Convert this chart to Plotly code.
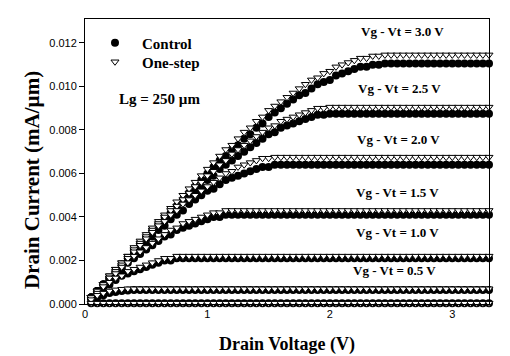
import plotly.graph_objects as go

# Drain voltage (V)
vd = [0.05, 0.10, 0.15, 0.20, 0.25, 0.30, 0.35, 0.40, 0.45, 0.50, 0.55,
      0.60, 0.65, 0.70, 0.75, 0.80, 0.85, 0.90, 0.95, 1.00, 1.05, 1.10,
      1.15, 1.20, 1.25, 1.30, 1.35, 1.40, 1.45, 1.50, 1.55, 1.60, 1.65,
      1.70, 1.75, 1.80, 1.85, 1.90, 1.95, 2.00, 2.05, 2.10, 2.15, 2.20,
      2.25, 2.30, 2.35, 2.40, 2.45, 2.50, 2.55, 2.60, 2.65, 2.70, 2.75,
      2.80, 2.85, 2.90, 2.95, 3.00, 3.05, 3.10, 3.15, 3.20, 3.25, 3.30]

# Drain current in uA/um (converted to mA/um when plotted)
ctrl_30 = [0.3, 0.6, 0.9, 1.2, 1.5, 1.8, 2.1, 2.5, 2.8, 3.1, 3.4,
           3.7, 4.0, 4.2, 4.5, 4.8, 5.1, 5.4, 5.7, 6.0, 6.3, 6.6,
           6.8, 7.1, 7.3, 7.6, 7.8, 8.1, 8.3, 8.6, 8.8, 9.0, 9.2,
           9.4, 9.6, 9.7, 9.9, 10.1, 10.2, 10.3, 10.5, 10.6, 10.7, 10.8,
           10.9, 10.9, 11.0, 11.0, 11.05, 11.05, 11.05, 11.05, 11.05, 11.05, 11.05,
           11.05, 11.05, 11.05, 11.05, 11.05, 11.05, 11.05, 11.05, 11.05, 11.05, 11.05]
one_30 = [0.3, 0.6, 0.9, 1.3, 1.6, 1.9, 2.2, 2.6, 2.9, 3.2, 3.5,
          3.8, 4.1, 4.4, 4.7, 5.0, 5.3, 5.6, 5.9, 6.2, 6.5, 6.8,
          7.1, 7.3, 7.6, 7.9, 8.1, 8.4, 8.6, 8.9, 9.1, 9.3, 9.5,
          9.7, 9.9, 10.1, 10.3, 10.4, 10.6, 10.7, 10.9, 11.0, 11.1, 11.2,
          11.3, 11.3, 11.4, 11.4, 11.45, 11.45, 11.45, 11.45, 11.45, 11.45, 11.45,
          11.45, 11.45, 11.45, 11.45, 11.45, 11.45, 11.45, 11.45, 11.45, 11.45, 11.45]
ctrl_25 = [0.3, 0.6, 0.9, 1.2, 1.5, 1.8, 2.1, 2.4, 2.7, 3.0, 3.3,
           3.6, 3.8, 4.1, 4.4, 4.7, 4.9, 5.2, 5.4, 5.7, 5.9, 6.2,
           6.4, 6.6, 6.8, 7.0, 7.2, 7.4, 7.6, 7.8, 7.9, 8.1, 8.2,
           8.3, 8.4, 8.5, 8.6, 8.7, 8.7, 8.75, 8.75, 8.75, 8.75, 8.75,
           8.75, 8.75, 8.75, 8.75, 8.75, 8.75, 8.75, 8.75, 8.75, 8.75, 8.75,
           8.75, 8.75, 8.75, 8.75, 8.75, 8.75, 8.75, 8.75, 8.75, 8.75, 8.75]
one_25 = [0.3, 0.6, 0.9, 1.3, 1.6, 1.9, 2.2, 2.5, 2.8, 3.1, 3.4,
          3.7, 4.0, 4.3, 4.5, 4.8, 5.1, 5.4, 5.6, 5.9, 6.1, 6.4,
          6.6, 6.9, 7.1, 7.3, 7.5, 7.7, 7.9, 8.1, 8.2, 8.4, 8.5,
          8.6, 8.7, 8.8, 8.9, 9.0, 9.0, 9.05, 9.05, 9.05, 9.05, 9.05,
          9.05, 9.05, 9.05, 9.05, 9.05, 9.05, 9.05, 9.05, 9.05, 9.05, 9.05,
          9.05, 9.05, 9.05, 9.05, 9.05, 9.05, 9.05, 9.05, 9.05, 9.05, 9.05]
ctrl_20 = [0.3, 0.6, 0.9, 1.2, 1.4, 1.7, 2.0, 2.3, 2.6, 2.8, 3.1,
           3.4, 3.6, 3.9, 4.1, 4.3, 4.6, 4.8, 5.0, 5.2, 5.3, 5.5,
           5.7, 5.8, 5.9, 6.0, 6.1, 6.2, 6.3, 6.3, 6.4, 6.4, 6.4,
           6.4, 6.4, 6.4, 6.4, 6.4, 6.4, 6.4, 6.4, 6.4, 6.4, 6.4,
           6.4, 6.4, 6.4, 6.4, 6.4, 6.4, 6.4, 6.4, 6.4, 6.4, 6.4,
           6.4, 6.4, 6.4, 6.4, 6.4, 6.4, 6.4, 6.4, 6.4, 6.4, 6.4]
one_20 = [0.3, 0.6, 0.9, 1.2, 1.5, 1.8, 2.1, 2.4, 2.7, 3.0, 3.3,
          3.6, 3.8, 4.1, 4.3, 4.6, 4.8, 5.0, 5.2, 5.4, 5.6, 5.8,
          6.0, 6.1, 6.3, 6.4, 6.5, 6.6, 6.7, 6.7, 6.75, 6.75, 6.75,
          6.75, 6.75, 6.75, 6.75, 6.75, 6.75, 6.75, 6.75, 6.75, 6.75, 6.75,
          6.75, 6.75, 6.75, 6.75, 6.75, 6.75, 6.75, 6.75, 6.75, 6.75, 6.75,
          6.75, 6.75, 6.75, 6.75, 6.75, 6.75, 6.75, 6.75, 6.75, 6.75, 6.75]
ctrl_15 = [0.3, 0.6, 0.9, 1.1, 1.4, 1.6, 1.9, 2.1, 2.3, 2.5, 2.7,
           2.9, 3.1, 3.2, 3.4, 3.5, 3.6, 3.7, 3.8, 3.9, 4.0, 4.0,
           4.1, 4.1, 4.1, 4.1, 4.1, 4.1, 4.1, 4.1, 4.1, 4.1, 4.1,
           4.1, 4.1, 4.1, 4.1, 4.1, 4.1, 4.1, 4.1, 4.1, 4.1, 4.1,
           4.1, 4.1, 4.1, 4.1, 4.1, 4.1, 4.1, 4.1, 4.1, 4.1, 4.1,
           4.1, 4.1, 4.1, 4.1, 4.1, 4.1, 4.1, 4.1, 4.1, 4.1, 4.1]
one_15 = [0.3, 0.6, 0.9, 1.2, 1.4, 1.7, 1.9, 2.2, 2.4, 2.6, 2.8,
          3.0, 3.2, 3.4, 3.5, 3.7, 3.8, 3.9, 4.0, 4.1, 4.2, 4.2,
          4.3, 4.3, 4.3, 4.3, 4.3, 4.3, 4.3, 4.3, 4.3, 4.3, 4.3,
          4.3, 4.3, 4.3, 4.3, 4.3, 4.3, 4.3, 4.3, 4.3, 4.3, 4.3,
          4.3, 4.3, 4.3, 4.3, 4.3, 4.3, 4.3, 4.3, 4.3, 4.3, 4.3,
          4.3, 4.3, 4.3, 4.3, 4.3, 4.3, 4.3, 4.3, 4.3, 4.3, 4.3]
ctrl_10 = [0.3, 0.5, 0.7, 0.9, 1.1, 1.3, 1.4, 1.5, 1.6, 1.7, 1.8,
           1.9, 2.0, 2.0, 2.1, 2.1, 2.1, 2.1, 2.1, 2.1, 2.1, 2.1,
           2.1, 2.1, 2.1, 2.1, 2.1, 2.1, 2.1, 2.1, 2.1, 2.1, 2.1,
           2.1, 2.1, 2.1, 2.1, 2.1, 2.1, 2.1, 2.1, 2.1, 2.1, 2.1,
           2.1, 2.1, 2.1, 2.1, 2.1, 2.1, 2.1, 2.1, 2.1, 2.1, 2.1,
           2.1, 2.1, 2.1, 2.1, 2.1, 2.1, 2.1, 2.1, 2.1, 2.1, 2.1]
one_10 = [0.3, 0.5, 0.8, 1.0, 1.2, 1.3, 1.5, 1.6, 1.7, 1.8, 1.9,
          2.0, 2.1, 2.1, 2.2, 2.2, 2.2, 2.2, 2.2, 2.2, 2.2, 2.2,
          2.2, 2.2, 2.2, 2.2, 2.2, 2.2, 2.2, 2.2, 2.2, 2.2, 2.2,
          2.2, 2.2, 2.2, 2.2, 2.2, 2.2, 2.2, 2.2, 2.2, 2.2, 2.2,
          2.2, 2.2, 2.2, 2.2, 2.2, 2.2, 2.2, 2.2, 2.2, 2.2, 2.2,
          2.2, 2.2, 2.2, 2.2, 2.2, 2.2, 2.2, 2.2, 2.2, 2.2, 2.2]
ctrl_05 = [0.2, 0.3, 0.4, 0.5, 0.55, 0.6, 0.62, 0.64, 0.64, 0.64, 0.64,
           0.64, 0.64, 0.64, 0.64, 0.64, 0.64, 0.64, 0.64, 0.64, 0.64, 0.64,
           0.64, 0.64, 0.64, 0.64, 0.64, 0.64, 0.64, 0.64, 0.64, 0.64, 0.64,
           0.64, 0.64, 0.64, 0.64, 0.64, 0.64, 0.64, 0.64, 0.64, 0.64, 0.64,
           0.64, 0.64, 0.64, 0.64, 0.64, 0.64, 0.64, 0.64, 0.64, 0.64, 0.64,
           0.64, 0.64, 0.64, 0.64, 0.64, 0.64, 0.64, 0.64, 0.64, 0.64, 0.64]
one_05 = [0.2, 0.4, 0.5, 0.6, 0.65, 0.68, 0.7, 0.7, 0.7, 0.7, 0.7,
          0.7, 0.7, 0.7, 0.7, 0.7, 0.7, 0.7, 0.7, 0.7, 0.7, 0.7,
          0.7, 0.7, 0.7, 0.7, 0.7, 0.7, 0.7, 0.7, 0.7, 0.7, 0.7,
          0.7, 0.7, 0.7, 0.7, 0.7, 0.7, 0.7, 0.7, 0.7, 0.7, 0.7,
          0.7, 0.7, 0.7, 0.7, 0.7, 0.7, 0.7, 0.7, 0.7, 0.7, 0.7,
          0.7, 0.7, 0.7, 0.7, 0.7, 0.7, 0.7, 0.7, 0.7, 0.7, 0.7]
ctrl_00 = [0.03, 0.03, 0.03, 0.03, 0.03, 0.03, 0.03, 0.03, 0.03, 0.03, 0.03,
           0.03, 0.03, 0.03, 0.03, 0.03, 0.03, 0.03, 0.03, 0.03, 0.03, 0.03,
           0.03, 0.03, 0.03, 0.03, 0.03, 0.03, 0.03, 0.03, 0.03, 0.03, 0.03,
           0.03, 0.03, 0.03, 0.03, 0.03, 0.03, 0.03, 0.03, 0.03, 0.03, 0.03,
           0.03, 0.03, 0.03, 0.03, 0.03, 0.03, 0.03, 0.03, 0.03, 0.03, 0.03,
           0.03, 0.03, 0.03, 0.03, 0.03, 0.03, 0.03, 0.03, 0.03, 0.03, 0.03]
one_00 = [0.04, 0.04, 0.04, 0.04, 0.04, 0.04, 0.04, 0.04, 0.04, 0.04, 0.04,
          0.04, 0.04, 0.04, 0.04, 0.04, 0.04, 0.04, 0.04, 0.04, 0.04, 0.04,
          0.04, 0.04, 0.04, 0.04, 0.04, 0.04, 0.04, 0.04, 0.04, 0.04, 0.04,
          0.04, 0.04, 0.04, 0.04, 0.04, 0.04, 0.04, 0.04, 0.04, 0.04, 0.04,
          0.04, 0.04, 0.04, 0.04, 0.04, 0.04, 0.04, 0.04, 0.04, 0.04, 0.04,
          0.04, 0.04, 0.04, 0.04, 0.04, 0.04, 0.04, 0.04, 0.04, 0.04, 0.04]

control_series = [ctrl_30, ctrl_25, ctrl_20, ctrl_15, ctrl_10, ctrl_05, ctrl_00]
onestep_series = [one_30, one_25, one_20, one_15, one_10, one_05, one_00]

series_names = ["Control", "One-step"]

vg_labels = ["Vg - Vt = 3.0 V", "Vg - Vt = 2.5 V", "Vg - Vt = 2.0 V",
             "Vg - Vt = 1.5 V", "Vg - Vt = 1.0 V", "Vg - Vt = 0.5 V"]
label_x = [2.59, 2.57, 2.56, 2.55, 2.55, 2.53]
label_y = [0.01253, 0.00992, 0.00757, 0.00512, 0.00330, 0.00154]

SERIF = "Liberation Serif"
SANS = "Liberation Sans"


def serif_bold(t):
    return '<span style="font-family:Liberation Serif, Times New Roman, serif"><b>' + t + '</b></span>'


fig = go.Figure()

for i, ys in enumerate(control_series):
    fig.add_trace(go.Scatter(
        x=vd, y=[v / 1000 for v in ys], mode="markers",
        name=serif_bold(series_names[0]), legend="legend", showlegend=(i == 0),
        cliponaxis=False,
        marker=dict(symbol="circle", size=8, color="black",
                    line=dict(color="black", width=0))))

for i, ys in enumerate(onestep_series):
    fig.add_trace(go.Scatter(
        x=vd, y=[v / 1000 for v in ys], mode="markers",
        name=serif_bold(series_names[1]), legend="legend2", showlegend=(i == 0),
        cliponaxis=False,
        marker=dict(symbol="triangle-down", size=7, color="white",
                    line=dict(color="black", width=1))))

for t, x, y in zip(vg_labels, label_x, label_y):
    fig.add_annotation(x=x, y=y, text="<b>" + t + "</b>", showarrow=False,
                       font=dict(family=SERIF, size=13, color="black"))

fig.add_annotation(x=0.61, y=0.00941, text="<b>Lg = 250 µm</b>", showarrow=False,
                   font=dict(family=SERIF, size=15, color="black"))

# y-axis title (placed as rotated text, slightly below the plot centre as in the original)
fig.add_annotation(xref="paper", yref="paper", x=0, y=0.435, xshift=-53,
                   text="<b>Drain Current (mA/µm)</b>", textangle=-90,
                   showarrow=False, xanchor="center", yanchor="middle",
                   font=dict(family=SERIF, size=21, color="black"))

legend_common = dict(xanchor="left", yanchor="middle", itemwidth=44,
                     bgcolor="rgba(0,0,0,0)", borderwidth=0,
                     font=dict(family=SERIF, size=15, color="black"))

# page body has an 8px default margin, so the figure is 16px smaller than the window
fig.update_layout(
    width=502, height=348,
    margin=dict(l=77, r=21, t=11, b=52),
    font=dict(family=SERIF, color="black"),
    plot_bgcolor="white", paper_bgcolor="white",
    showlegend=True,
    legend=dict(x=0.0074, y=0.916, **legend_common),
    legend2=dict(x=0.0074, y=0.849, **legend_common),
    xaxis=dict(range=[0, 3.3], tickvals=[0, 1, 2, 3], ticks="",
               showline=True, linecolor="black", linewidth=1, mirror=True,
               showgrid=False, zeroline=False, automargin=False,
               tickfont=dict(family=SANS, size=11, color="black"),
               title=dict(text="<b>Drain Voltage (V)</b>", standoff=18,
                          font=dict(family=SERIF, size=18, color="black"))),
    yaxis=dict(range=[0, 0.0131], dtick=0.002, tick0=0, tickformat=".3f",
               ticks="outside", ticklen=5, tickcolor="black",
               showline=True, linecolor="black", linewidth=1, mirror=True,
               showgrid=False, zeroline=False, automargin=False,
               tickfont=dict(family=SANS, size=11, color="black")),
)

fig.write_html("out.html")
